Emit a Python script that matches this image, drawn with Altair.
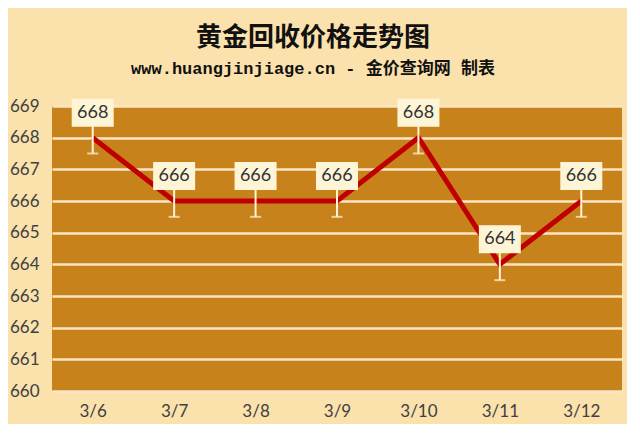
import altair as alt
import pandas as pd

dates = ["3/6", "3/7", "3/8", "3/9", "3/10", "3/11", "3/12"]
prices = [668, 666, 666, 666, 668, 664, 666]
err = [0.5, 0.5, 0.5, 0.5, 0.5, 0.5, 0.5]
y_ticks = [660, 661, 662, 663, 664, 665, 666, 667, 668, 669]

df = pd.DataFrame({"date": dates, "price": prices, "err": err})
df["lo"] = df["price"] - df["err"]
df["hi"] = df["price"] + df["err"]

xenc = alt.X("date:N", sort=dates,
             scale=alt.Scale(type="point", padding=0.5),
             axis=alt.Axis(title=None, labelAngle=0, labelFontSize=17,
                           labelColor="#404040", labelFont="Lato",
                           labelPadding=12, ticks=False, domain=False))
yscale = alt.Scale(domain=[660, 669], nice=False, zero=False)
yaxis = alt.Axis(title=None, values=y_ticks, labelFontSize=17,
                 labelColor="#404040", labelFont="Lato",
                 labelPadding=13, ticks=False, domain=False,
                 grid=True, gridColor="#FBE6C4", gridWidth=2.5,
                 labelOverlap=False)


def Y(field):
    return alt.Y(field, scale=yscale, axis=yaxis)


base = alt.Chart(df)

line = base.mark_line(color="#C00000", strokeWidth=5).encode(
    x=xenc, y=Y("price:Q"))

rule = base.mark_rule(color="#FFF3D6", strokeWidth=2).encode(
    x=xenc, y=Y("lo:Q"), y2="hi:Q")

cap = base.mark_tick(color="#FFF3D6", thickness=2, size=11,
                     orient="horizontal").encode(
    x=xenc, y=Y("lo:Q"))

box = base.mark_rect(width=42, height=28, yOffset=-25,
                     color="#FEF4D6").encode(
    x=xenc, y=Y("price:Q"))

txt = base.mark_text(fontSize=18, font="Lato", color="#333333",
                     yOffset=-25, baseline="middle").encode(
    x=xenc, y=Y("price:Q"), text="price:Q")

chart = alt.layer(line, rule, cap, box, txt).properties(
    width=570, height=285,
    padding={"left": 1, "top": 17, "right": 5, "bottom": 5},
    background="#FBE1AC",
    title=alt.TitleParams(
        text="黄金回收价格走势图",
        subtitle="www.huangjinjiage.cn - 金价查询网 制表",
        font="Noto Sans CJK SC", fontSize=26, fontWeight="bold",
        color="#111111",
        subtitleFont="Liberation Mono, Noto Sans CJK SC",
        subtitleFontSize=17, subtitleFontWeight="bold",
        subtitleColor="#111111", subtitlePadding=10,
        anchor="middle", frame="group", dx=-24, offset=20),
).configure_view(fill="#C8821C", stroke=None)

chart.save("out.html", embed_options={"renderer": "svg", "actions": False})
